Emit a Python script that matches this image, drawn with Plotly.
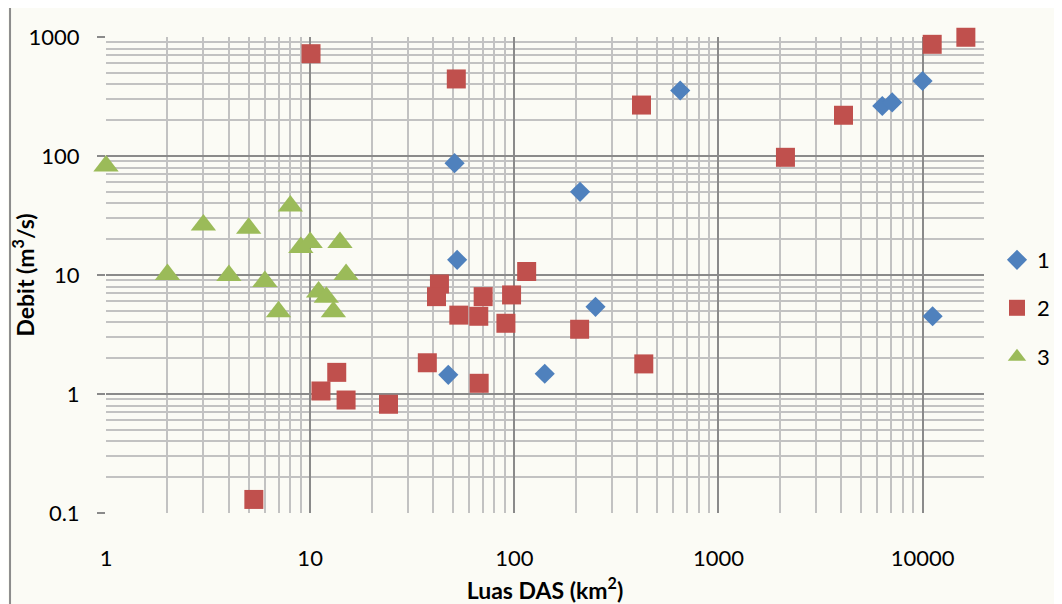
import plotly.graph_objects as go

# Series 1 (blue diamonds)
s1_x = [51, 52.5, 210, 650, 250, 47.5, 141, 6350, 7100, 10000, 11200]
s1_y = [87, 13.4, 50, 355, 5.4, 1.45, 1.48, 263, 282, 427, 4.5]

# Series 2 (red squares)
s2_x = [10.1, 52, 420, 2130, 4100, 11150, 16300, 115, 43, 41.6, 70.4, 97, 53.5, 67, 91,
        37.5, 67.3, 13.5, 11.3, 15.0, 24.2, 5.3, 209, 431]
s2_y = [724, 444, 268, 97.5, 220, 868, 995, 10.7, 8.4, 6.58, 6.58, 6.8, 4.6, 4.5, 3.93,
        1.83, 1.23, 1.52, 1.06, 0.89, 0.82, 0.13, 3.5, 1.79]

# Series 3 (green triangles)
s3_x = [1, 2, 3, 4, 5, 6, 7, 8, 9, 10, 11, 12, 13, 14, 15]
s3_y = [82.5, 10.1, 26.3, 9.9, 24.7, 8.8, 4.9, 38, 17, 18.8, 7.2, 6.5, 4.9, 18.8, 10.1]

series_names = ["1", "2", "3"]

x_tickvals = [1, 10, 100, 1000, 10000]
x_ticktext = ["1", "10", "100", "1000", "10000"]
y_tickvals = [0.1, 1, 10, 100, 1000]
y_ticktext = ["0.1", "1", "10", "100", "1000"]

FONT = "Lato, 'Open Sans', sans-serif"
BG = "#fbfbf5"

fig = go.Figure()
fig.add_trace(go.Scatter(x=s1_x, y=s1_y, mode="markers", name=series_names[0],
                         marker=dict(symbol="diamond", size=15.5, color="#4f81bd"),
                         cliponaxis=False, legend="legend"))
fig.add_trace(go.Scatter(x=s2_x, y=s2_y, mode="markers", name=series_names[1],
                         marker=dict(symbol="square", size=19, color="#c0504d"),
                         cliponaxis=False, legend="legend2"))
fig.add_trace(go.Scatter(x=s3_x, y=s3_y, mode="markers", name=series_names[2],
                         marker=dict(symbol="triangle-up", size=22, color="#9bbb59"),
                         cliponaxis=False, legend="legend3"))

leg_common = dict(font=dict(family=FONT, size=22, color="#000000"),
                  bgcolor="rgba(0,0,0,0)", xanchor="left", yanchor="middle",
                  x=1.0148, itemwidth=30)
# the page body adds an 8px offset, so the figure is 8px smaller and shifted
fig.update_layout(
    width=1054, height=596,
    margin=dict(l=98, r=78, t=29, b=91, autoexpand=False),
    paper_bgcolor=BG, plot_bgcolor=BG,
    font=dict(family=FONT, size=22, color="#000000"),
    showlegend=True,
    legend=dict(y=0.5315, **leg_common),
    legend2=dict(y=0.4307, **leg_common),
    legend3=dict(y=0.3277, **leg_common),
    xaxis=dict(type="log", range=[0, 4.30103], tickvals=x_tickvals, ticktext=x_ticktext,
               showgrid=True, gridcolor="#8a8a8a", gridwidth=1.8, automargin=False,
               ticks="", ticklabelstandoff=30, zeroline=False, showline=False,
               minor=dict(dtick="D1", showgrid=True, gridcolor="#c2c2c2", gridwidth=1.5),
               title=dict(text="<b>Luas DAS (km<sup>2</sup>)</b>", standoff=15,
                          font=dict(family=FONT, size=23))),
    yaxis=dict(type="log", range=[-1, 3], tickvals=y_tickvals, ticktext=y_ticktext,
               showgrid=True, gridcolor="#8a8a8a", gridwidth=1.8, automargin=False,
               ticks="outside", ticklen=8, tickcolor="#8a8a8a", tickwidth=1.8,
               ticklabelstandoff=13, zeroline=False, showline=False,
               minor=dict(dtick="D1", showgrid=True, gridcolor="#c2c2c2", gridwidth=1.5),
               title=dict(text="<b>Debit (m<sup>3</sup>/s)</b>", standoff=0,
                          font=dict(family=FONT, size=23))),
    shapes=[dict(type="rect", xref="paper", yref="paper",
                 x0=-0.1093, x1=1.2, y0=-0.3, y1=1.063,
                 line=dict(color="#8c8c8c", width=2), layer="below")],
)

fig.write_html("out.html")
